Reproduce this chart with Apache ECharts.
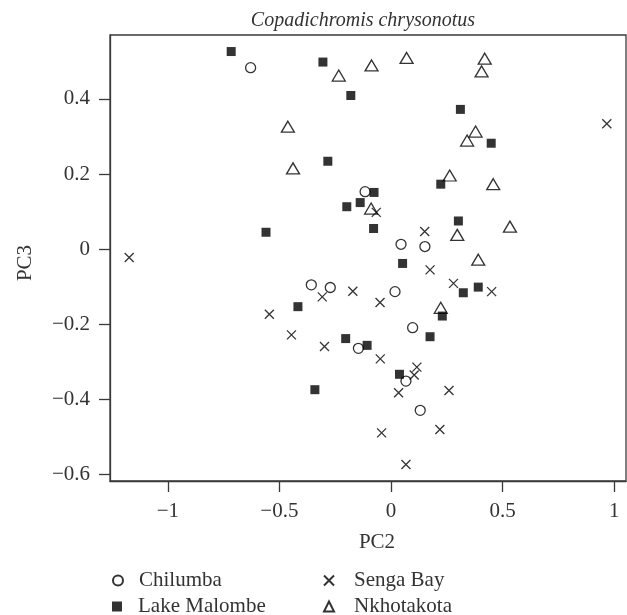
<!DOCTYPE html>
<html>
<head>
<meta charset="utf-8">
<script src="https://cdn.jsdelivr.net/npm/echarts@6/dist/echarts.min.js"></script>
<style>html,body{margin:0;padding:0;background:#fff;}#c{width:627px;height:615px;}</style>
</head>
<body>
<div id="c"></div>
<script>
var titleText = 'Copadichromis chrysonotus';
var xName = 'PC2';
var yName = 'PC3';
var xTicks = [-1, -0.5, 0, 0.5, 1];
var yTicks = [-0.6, -0.4, -0.2, 0, 0.2, 0.4];
var groupNames = ['Chilumba', 'Lake Malombe', 'Senga Bay', 'Nkhotakota'];

var chilumba = [
  [-0.629, 0.483], [-0.116, 0.153], [0.045, 0.013], [0.152, 0.007],
  [-0.357, -0.095], [-0.272, -0.102], [0.018, -0.113], [0.097, -0.209],
  [-0.146, -0.264], [0.067, -0.351], [0.131, -0.429]
];
var lakeMalombe = [
  [-0.716, 0.526], [-0.305, 0.498], [-0.180, 0.409], [0.311, 0.372],
  [0.449, 0.282], [-0.283, 0.234], [0.223, 0.173], [-0.076, 0.151],
  [-0.138, 0.124], [-0.198, 0.113], [-0.078, 0.055], [0.302, 0.075],
  [-0.560, 0.045], [0.052, -0.038], [0.391, -0.101], [0.324, -0.116],
  [-0.417, -0.153], [0.230, -0.178], [0.175, -0.233], [-0.203, -0.238],
  [-0.107, -0.256], [0.038, -0.333], [-0.341, -0.374]
];
var sengaBay = [
  [-1.173, -0.022], [0.967, 0.334], [-0.066, 0.098], [0.151, 0.047],
  [0.175, -0.055], [0.280, -0.091], [0.451, -0.113], [-0.171, -0.112],
  [-0.308, -0.127], [-0.049, -0.142], [-0.545, -0.173], [-0.446, -0.228],
  [-0.298, -0.259], [-0.048, -0.292], [0.116, -0.314], [0.104, -0.335],
  [0.034, -0.382], [0.260, -0.376], [0.219, -0.480], [-0.042, -0.489],
  [0.067, -0.573]
];
var nkhotakota = [
  [-0.087, 0.489], [0.070, 0.509], [-0.234, 0.462], [0.420, 0.507],
  [0.406, 0.473], [-0.462, 0.326], [-0.439, 0.215], [0.379, 0.313],
  [0.341, 0.289], [0.263, 0.196], [0.458, 0.173], [-0.089, 0.108],
  [0.533, 0.060], [0.297, 0.038], [0.391, -0.028], [0.223, -0.156]
];

var FONT = '"Liberation Serif", "DejaVu Serif", serif';
var AX = '#3a3a3a';
var TXT = '#333';

function fmt(v) {
  var s = String(Math.round(v * 10) / 10);
  return s.replace('-', '\u2212');
}

var openStyle = { color: 'rgba(0,0,0,0)', borderColor: '#000', borderWidth: 1.3 };
var fillStyle = { color: '#000', borderWidth: 0 };

function legendItem(name, left, top, pad) {
  return {
    data: [name], orient: 'vertical', left: left, top: top,
    itemWidth: 10, itemHeight: 10, itemGap: 0, padding: 0,
    formatter: '{a|{name}}',
    textStyle: { fontFamily: FONT, fontSize: 21, color: TXT,
      rich: { a: { fontFamily: FONT, fontSize: 21, color: TXT, padding: [0, 0, 0, pad] } } }
  };
}

var chart = echarts.init(document.getElementById('c'), null, { renderer: 'canvas' });
chart.setOption({
  animation: false,
  backgroundColor: '#fff',
  title: {
    text: titleText,
    left: 358, top: 6, textAlign: 'center',
    textStyle: { fontFamily: FONT, fontStyle: 'italic', fontWeight: 'normal', fontSize: 20, color: TXT }
  },
  grid: {
    left: 110, right: 1, top: 35, bottom: 134,
    show: true, borderColor: AX, borderWidth: 1.3, backgroundColor: 'transparent'
  },
  xAxis: {
    type: 'value', min: -1.259, max: 1.053,
    name: xName, nameLocation: 'middle', nameGap: 51,
    nameTextStyle: { fontFamily: FONT, fontSize: 21, color: TXT, padding: [0, 0, 0, 18] },
    axisLine: { show: true, onZero: false, lineStyle: { color: AX, width: 1.3 } },
    axisTick: { show: true, length: 11, customValues: xTicks, lineStyle: { color: AX, width: 1.3 } },
    axisLabel: { customValues: xTicks, margin: 20, formatter: fmt, fontFamily: FONT, fontSize: 21, color: TXT },
    splitLine: { show: false }
  },
  yAxis: {
    type: 'value', min: -0.617, max: 0.570,
    name: yName, nameLocation: 'middle', nameGap: 74, nameRotate: 90,
    nameTextStyle: { fontFamily: FONT, fontSize: 21, color: TXT, padding: [0, 10, 0, 0] },
    axisLine: { show: true, onZero: false, lineStyle: { color: AX, width: 1.3 } },
    axisTick: { show: true, length: 11, customValues: yTicks, lineStyle: { color: AX, width: 1.3 } },
    axisLabel: { customValues: yTicks, margin: 20, formatter: fmt, fontFamily: FONT, fontSize: 21, color: TXT },
    splitLine: { show: false }
  },
  legend: [
    legendItem(groupNames[0], 112, 570, 11),
    legendItem(groupNames[1], 112, 596, 11),
    legendItem(groupNames[2], 323, 570, 15),
    legendItem(groupNames[3], 323, 596, 15)
  ],
  series: [
    { name: groupNames[0], type: 'scatter', data: chilumba, symbol: 'circle', symbolSize: 10, itemStyle: openStyle },
    { name: groupNames[1], type: 'scatter', data: lakeMalombe, symbol: 'rect', symbolSize: 9, itemStyle: fillStyle },
    { name: groupNames[2], type: 'scatter', data: sengaBay, symbol: 'path://M0,0L10,10M0,10L10,0', symbolSize: 9, itemStyle: openStyle },
    { name: groupNames[3], type: 'scatter', data: nkhotakota, symbol: 'triangle', symbolSize: [13, 11], itemStyle: openStyle }
  ]
});
</script>
</body>
</html>
